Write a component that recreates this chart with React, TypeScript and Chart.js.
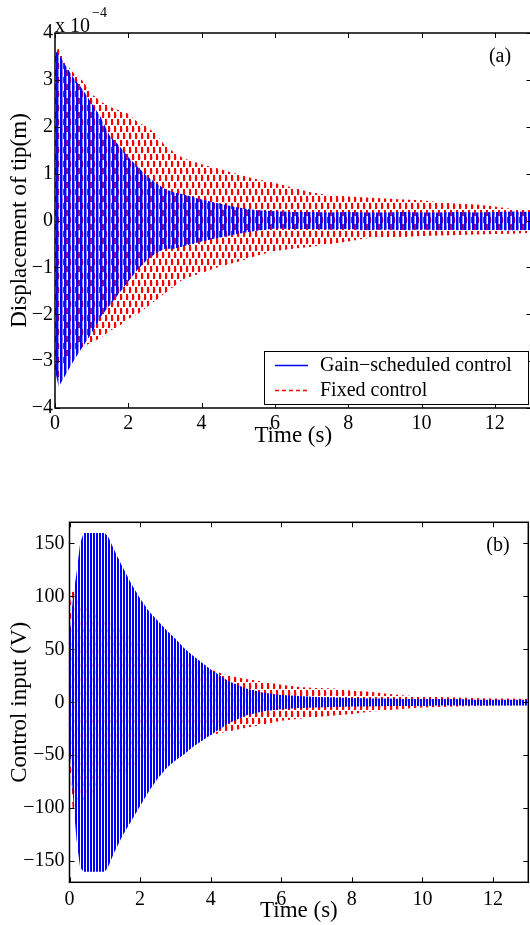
import React, { useEffect, useRef } from "react";
import { Chart, registerables } from "chart.js";

Chart.register(...registerables);

// ---------- Data ----------
// Panel (a): tip displacement envelopes, in units of 1e-4 m
const timeA = [0, 0.1, 0.25, 0.5, 0.75, 1, 1.25, 1.5, 1.75, 2, 2.25, 2.5, 2.75, 3, 3.25, 3.5, 4, 4.5, 5, 5.5, 6, 6.5, 7, 7.5, 8, 8.5, 9, 9.5, 10, 10.5, 11, 11.5, 12, 12.5, 13];
const gainUpperA = [3.62, 3.55, 3.35, 3.05, 2.8, 2.5, 2.2, 1.8, 1.6, 1.35, 1.15, 0.95, 0.8, 0.67, 0.6, 0.56, 0.45, 0.36, 0.28, 0.22, 0.2, 0.18, 0.18, 0.17, 0.18, 0.17, 0.17, 0.18, 0.17, 0.17, 0.18, 0.17, 0.18, 0.19, 0.18];
const gainLowerA = [-3.2, -3.54, -3.35, -3.0, -2.7, -2.4, -2.05, -1.8, -1.55, -1.3, -1.05, -0.85, -0.7, -0.6, -0.6, -0.55, -0.45, -0.36, -0.28, -0.22, -0.17, -0.18, -0.18, -0.19, -0.18, -0.2, -0.19, -0.2, -0.19, -0.2, -0.2, -0.2, -0.2, -0.21, -0.2];
const fixedUpperA = [3.5, 3.72, 3.4, 3.15, 2.98, 2.7, 2.54, 2.42, 2.35, 2.28, 2.1, 2.0, 1.85, 1.6, 1.45, 1.33, 1.2, 1.1, 0.98, 0.88, 0.8, 0.7, 0.6, 0.54, 0.51, 0.49, 0.47, 0.45, 0.43, 0.39, 0.36, 0.34, 0.3, 0.24, 0.22];
const fixedLowerA = [-3.3, -3.35, -3.1, -2.85, -2.7, -2.6, -2.5, -2.35, -2.25, -2.1, -2.0, -1.85, -1.7, -1.55, -1.4, -1.25, -1.12, -0.98, -0.88, -0.75, -0.65, -0.6, -0.56, -0.5, -0.45, -0.38, -0.36, -0.35, -0.33, -0.32, -0.31, -0.3, -0.29, -0.28, -0.26];

// Panel (b): control input envelopes, in V
const timeB = [0, 0.1, 0.2, 0.3, 0.4, 0.5, 0.75, 1, 1.1, 1.25, 1.5, 1.75, 2, 2.25, 2.5, 2.75, 3, 3.25, 3.5, 4, 4.5, 5, 5.5, 6, 6.5, 7, 7.5, 8, 8.5, 9, 9.5, 10, 10.5, 11, 11.5, 12, 12.5, 13];
const gainUpperB = [60, 100, 122, 150, 160, 160, 160, 160, 156, 145, 128, 112, 98, 86, 77, 68, 60, 51, 44, 31, 20, 13, 9, 7, 6, 5, 4.5, 4, 3.5, 3.5, 3, 3, 3, 3, 2.5, 2.5, 2.5, 2.5];
const gainLowerB = [-40, -90, -130, -156, -160, -160, -160, -160, -155, -143, -126, -112, -98, -84, -72, -62, -55, -49, -42, -31, -20, -12.5, -8.5, -6.5, -5.5, -5, -4.5, -4, -4, -3.5, -3.5, -3.5, -3, -3, -3, -3, -3, -3];
const fixedUpperB = [90, 110, 102, 97, 93, 90, 84, 78, 76, 73, 68, 62, 57, 53, 50, 46, 43, 40, 37, 31, 25, 22, 19.5, 16.5, 14.5, 13.5, 13, 11, 10, 8, 6.5, 5.5, 5, 4.5, 4, 3.5, 3.5, 3];
const fixedLowerB = [-60, -105, -100, -96, -93, -90, -84, -78, -76, -73, -68, -62, -57, -53, -49, -45, -42, -38, -35, -31, -27.5, -24, -21, -17.5, -15.5, -14, -12.5, -11, -9, -7.5, -6, -5, -4.5, -4, -3.5, -3, -3, -2.5];

// Ticks and labels
const timeTicks = [0, 2, 4, 6, 8, 10, 12];
const dispTicks = [-4, -3, -2, -1, 0, 1, 2, 3, 4];
const inputTicks = [-150, -100, -50, 0, 50, 100, 150];
const seriesNames = ["Gain\u2212scheduled control", "Fixed control"];
const panelLabels = ["(a)", "(b)"];
const axisTitles = { time: "Time (s)", disp: "Displacement of tip(m)", input: "Control input (V)" };

// ---------- Styling helpers ----------
const SERIF = '"Liberation Serif", "Times New Roman", Times, serif';
const BLUE = "#0000ff";
const RED = "#ff0000";

const fmt = (v: number) => (v < 0 ? "\u2212" + Math.abs(v) : String(v));
const pts = (xs: number[], ys: number[]) => xs.map((x, i) => ({ x, y: ys[i] }));

function stripePattern(period: number, solid: number, soft: string | null) {
  const c = document.createElement("canvas");
  c.width = period;
  c.height = 2;
  const g = c.getContext("2d")!;
  g.fillStyle = BLUE;
  g.fillRect(0, 0, solid, 2);
  if (soft) {
    g.fillStyle = soft;
    g.fillRect(solid, 0, 1, 2);
  }
  return g.createPattern(c, "repeat")!;
}

function dashPattern() {
  const c = document.createElement("canvas");
  c.width = 6;
  c.height = 14;
  const g = c.getContext("2d")!;
  g.fillStyle = RED;
  g.fillRect(0, 0, 2, 6);
  g.fillRect(3, 7, 2, 6);
  g.fillStyle = "rgba(255,80,80,0.35)";
  g.fillRect(2, 2, 1, 3);
  g.fillRect(5, 9, 1, 3);
  return g.createPattern(c, "repeat")!;
}

function framePlugin(extra: (ctx: CanvasRenderingContext2D, chart: any) => void) {
  return {
    id: "frame",
    afterDraw(chart: any) {
      const { ctx, chartArea: a, scales } = chart;
      ctx.save();
      ctx.strokeStyle = "#000";
      ctx.lineWidth = 1.5;
      ctx.strokeRect(a.left, a.top, a.right - a.left, a.bottom - a.top);
      ctx.lineWidth = 1;
      const L = 5;
      ctx.beginPath();
      scales.x.ticks.forEach((t: any) => {
        const px = Math.round(scales.x.getPixelForValue(t.value)) + 0.5;
        ctx.moveTo(px, a.bottom);
        ctx.lineTo(px, a.bottom - L);
        ctx.moveTo(px, a.top);
        ctx.lineTo(px, a.top + L);
      });
      scales.y.ticks.forEach((t: any) => {
        const py = Math.round(scales.y.getPixelForValue(t.value)) + 0.5;
        ctx.moveTo(a.left, py);
        ctx.lineTo(a.left + L, py);
        ctx.moveTo(a.right, py);
        ctx.lineTo(a.right - L, py);
      });
      ctx.stroke();
      extra(ctx, chart);
      ctx.restore();
    },
  };
}

function drawLegend(ctx: CanvasRenderingContext2D, a: any) {
  const w = 264;
  const h = 53;
  const x = a.right - 3.5 - w;
  const y = a.bottom - 4 - h;
  ctx.fillStyle = "#fff";
  ctx.fillRect(x, y, w, h);
  ctx.strokeStyle = "#000";
  ctx.lineWidth = 1;
  ctx.strokeRect(Math.round(x) + 0.5, Math.round(y) + 0.5, w, h);
  const rows = [Math.round(y + 14) + 0.5, Math.round(y + 39) + 0.5];
  ctx.lineWidth = 1.5;
  ctx.strokeStyle = BLUE;
  ctx.setLineDash([]);
  ctx.beginPath();
  ctx.moveTo(x + 11, rows[0]);
  ctx.lineTo(x + 44, rows[0]);
  ctx.stroke();
  ctx.strokeStyle = RED;
  ctx.lineWidth = 1.3;
  ctx.setLineDash([4, 3]);
  ctx.beginPath();
  ctx.moveTo(x + 11, rows[1]);
  ctx.lineTo(x + 44, rows[1]);
  ctx.stroke();
  ctx.setLineDash([]);
  ctx.fillStyle = "#000";
  ctx.font = `20px ${SERIF}`;
  ctx.textAlign = "left";
  ctx.textBaseline = "middle";
  ctx.fillText(seriesNames[0], x + 56, rows[0]);
  ctx.fillText(seriesNames[1], x + 56, rows[1]);
}

function makeConfig(opts: {
  time: number[];
  gu: number[];
  gl: number[];
  fu: number[];
  fl: number[];
  bluePat: CanvasPattern;
  redPat: CanvasPattern;
  yMin: number;
  yMax: number;
  yTicks: number[];
  yTitle: string;
  padTop: number;
  padRight: number;
  yWidth: number;
  xHeight: number;
  tickPadX: number;
  tickPadY: number;
  extra: (ctx: CanvasRenderingContext2D, chart: any) => void;
}) {
  const base = { borderColor: "rgba(0,0,0,0)", borderWidth: 0, pointRadius: 0, tension: 0 };
  const tickFont = { family: SERIF, size: 20 };
  const titleFont = { family: SERIF, size: 23 };
  return {
    type: "line" as const,
    data: {
      datasets: [
        { ...base, label: seriesNames[0], data: pts(opts.time, opts.gu), fill: "+1", backgroundColor: opts.bluePat },
        { ...base, label: seriesNames[0] + " (lower)", data: pts(opts.time, opts.gl), fill: false },
        { ...base, label: seriesNames[1], data: pts(opts.time, opts.fu), fill: "+1", backgroundColor: opts.redPat },
        { ...base, label: seriesNames[1] + " (lower)", data: pts(opts.time, opts.fl), fill: false },
      ],
    },
    options: {
      responsive: false,
      animation: false as const,
      devicePixelRatio: 1,
      layout: { padding: { top: opts.padTop, right: opts.padRight, left: 0, bottom: 0 }, autoPadding: false },
      plugins: { legend: { display: false }, tooltip: { enabled: false } },
      scales: {
        x: {
          type: "linear" as const,
          min: 0,
          max: 13,
          grid: { display: false, drawTicks: false },
          border: { display: false },
          afterBuildTicks: (s: any) => {
            s.ticks = timeTicks.map((v) => ({ value: v }));
          },
          afterFit: (s: any) => {
            s.height = opts.xHeight;
          },
          ticks: { font: tickFont, color: "#000", padding: opts.tickPadX, autoSkip: false, maxRotation: 0, callback: (v: any) => fmt(Number(v)) },
          title: { display: true, text: axisTitles.time, font: titleFont, color: "#000", padding: { top: 0, bottom: 0 } },
        },
        y: {
          type: "linear" as const,
          min: opts.yMin,
          max: opts.yMax,
          grid: { display: false, drawTicks: false },
          border: { display: false },
          afterBuildTicks: (s: any) => {
            s.ticks = opts.yTicks.map((v) => ({ value: v }));
          },
          afterFit: (s: any) => {
            s.width = opts.yWidth;
          },
          ticks: { font: tickFont, color: "#000", padding: opts.tickPadY, autoSkip: false, callback: (v: any) => fmt(Number(v)) },
          title: { display: true, text: opts.yTitle, font: titleFont, color: "#000", padding: { top: 6, bottom: 0 } },
        },
      },
    },
    plugins: [framePlugin(opts.extra)],
  };
}

export default function App() {
  const refA = useRef<HTMLCanvasElement>(null);
  const refB = useRef<HTMLCanvasElement>(null);

  useEffect(() => {
    document.body.style.margin = "0";
    document.body.style.overflow = "hidden";
    const redPat = dashPattern();
    const chartA = new Chart(
      refA.current!,
      makeConfig({
        time: timeA,
        gu: gainUpperA,
        gl: gainLowerA,
        fu: fixedUpperA,
        fl: fixedLowerA,
        bluePat: stripePattern(4, 2, "rgba(0,0,255,0.45)"),
        redPat,
        yMin: -4,
        yMax: 4,
        yTicks: dispTicks,
        yTitle: axisTitles.disp,
        padTop: 33,
        padRight: 8.5,
        yWidth: 55,
        xHeight: 42,
        tickPadX: 4,
        tickPadY: 2,
        extra: (ctx, chart) => {
          const a = chart.chartArea;
          ctx.fillStyle = "#000";
          ctx.textBaseline = "middle";
          ctx.textAlign = "left";
          ctx.font = `20px ${SERIF}`;
          ctx.fillText("x 10", a.left, a.top - 6);
          const w = ctx.measureText("x 10").width;
          ctx.font = `14px ${SERIF}`;
          ctx.fillText("\u22124", a.left + w + 2, a.top - 20);
          ctx.font = `20px ${SERIF}`;
          ctx.textAlign = "center";
          ctx.fillText(panelLabels[0], 500, a.top + 24);
          drawLegend(ctx, a);
        },
      }) as any
    );
    const chartB = new Chart(
      refB.current!,
      makeConfig({
        time: timeB,
        gu: gainUpperB,
        gl: gainLowerB,
        fu: fixedUpperB,
        fl: fixedLowerB,
        bluePat: stripePattern(3, 2, null),
        redPat,
        yMin: -170,
        yMax: 170,
        yTicks: inputTicks,
        yTitle: axisTitles.input,
        padTop: 42.3,
        padRight: 1.7,
        yWidth: 69.5,
        xHeight: 42.7,
        tickPadX: 5.5,
        tickPadY: 5,
        extra: (ctx, chart) => {
          const a = chart.chartArea;
          ctx.fillStyle = "#000";
          ctx.textBaseline = "middle";
          ctx.textAlign = "center";
          ctx.font = `20px ${SERIF}`;
          ctx.fillText(panelLabels[1], 498, a.top + 23);
        },
      }) as any
    );
    return () => {
      chartA.destroy();
      chartB.destroy();
    };
  }, []);

  return (
    <div style={{ position: "relative", width: 530, height: 925, overflow: "hidden", background: "#fff" }}>
      <canvas ref={refA} width={540} height={450} style={{ position: "absolute", left: 0, top: 0, width: 540, height: 450 }} />
      <canvas ref={refB} width={530} height={445} style={{ position: "absolute", left: 0, top: 480, width: 530, height: 445 }} />
    </div>
  );
}
